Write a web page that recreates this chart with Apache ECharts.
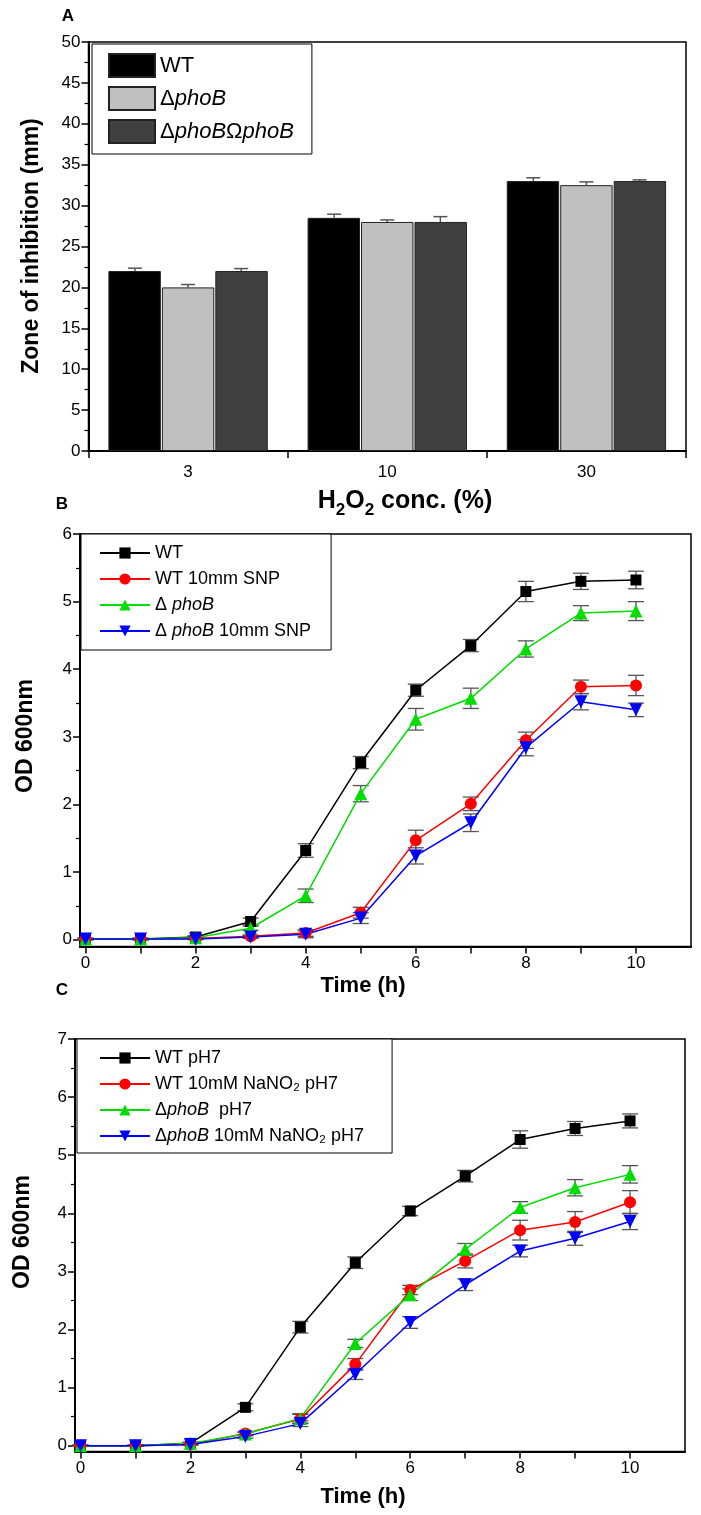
<!DOCTYPE html>
<html><head><meta charset="utf-8">
<script src="https://cdn.jsdelivr.net/npm/echarts@6/dist/echarts.min.js"></script>
<style>
html,body{margin:0;padding:0;background:#fff;}
.c{position:absolute;left:0;top:0;width:701px;height:1515px;}
</style></head><body>
<div id="pa" class="c"></div><div id="pb" class="c"></div><div id="pc" class="c"></div>
<script>
const FONT = "'Liberation Sans', Arial, sans-serif";

// ---------- Panel A data ----------
const aCategories = ['3', '10', '30'];
const aNames = ['WT', 'ΔphoB', 'ΔphoBΩphoB'];
const aWT = [22.0, 28.5, 33.0];
const aPhoB = [20.0, 28.0, 32.5];
const aComp = [22.0, 28.0, 33.0];
const aWTErr = [0.35, 0.45, 0.4];
const aPhoBErr = [0.35, 0.25, 0.4];
const aCompErr = [0.3, 0.65, 0.15];
const aColors = ['#000000', '#c0c0c0', '#404040'];

// ---------- Panel B data ----------
const timeH = [0, 1, 2, 3, 4, 5, 6, 7, 8, 9, 10];
const bNames = ['WT', 'WT 10mm SNP', 'Δ phoB', 'Δ phoB 10mm SNP'];
const bWT = [0.01, 0.01, 0.04, 0.27, 1.32, 2.62, 3.69, 4.35, 5.15, 5.30, 5.32];
const bWTErr = [0.01, 0.01, 0.02, 0.05, 0.10, 0.09, 0.09, 0.09, 0.15, 0.12, 0.13];
const bWTSNP = [0.01, 0.01, 0.02, 0.05, 0.10, 0.40, 1.47, 2.01, 2.95, 3.74, 3.76];
const bWTSNPErr = [0.01, 0.01, 0.01, 0.02, 0.05, 0.08, 0.15, 0.10, 0.12, 0.10, 0.15];
const bPhoB = [0.01, 0.01, 0.03, 0.17, 0.65, 2.16, 3.26, 3.57, 4.30, 4.83, 4.86];
const bPhoBErr = [0.01, 0.01, 0.01, 0.03, 0.10, 0.12, 0.16, 0.15, 0.12, 0.11, 0.14];
const bPhoBSNP = [0.01, 0.01, 0.01, 0.04, 0.08, 0.32, 1.24, 1.73, 2.84, 3.52, 3.40];
const bPhoBSNPErr = [0.01, 0.01, 0.01, 0.02, 0.05, 0.08, 0.12, 0.13, 0.12, 0.12, 0.10];

// ---------- Panel C data ----------
const cNames = ['WT pH7', 'WT 10mM NaNO₂ pH7', 'ΔphoB  pH7', 'ΔphoB 10mM NaNO₂ pH7'];
const cWT = [0.0, 0.0, 0.04, 0.66, 2.04, 3.15, 4.04, 4.64, 5.27, 5.46, 5.59];
const cWTErr = [0.01, 0.01, 0.02, 0.06, 0.10, 0.10, 0.08, 0.10, 0.15, 0.12, 0.12];
const cWTN = [0.0, 0.0, 0.02, 0.21, 0.46, 1.40, 2.68, 3.18, 3.71, 3.85, 4.19];
const cWTNErr = [0.01, 0.01, 0.01, 0.03, 0.08, 0.10, 0.08, 0.12, 0.17, 0.18, 0.20];
const cPhoB = [0.0, 0.0, 0.04, 0.20, 0.47, 1.76, 2.60, 3.38, 4.10, 4.44, 4.67];
const cPhoBErr = [0.01, 0.01, 0.01, 0.03, 0.08, 0.07, 0.10, 0.10, 0.10, 0.14, 0.15];
const cPhoBN = [0.0, 0.0, 0.02, 0.16, 0.38, 1.23, 2.12, 2.77, 3.35, 3.57, 3.86];
const cPhoBNErr = [0.01, 0.01, 0.01, 0.03, 0.05, 0.09, 0.10, 0.10, 0.10, 0.12, 0.14];

// ---------- tick values ----------
const xTickLabels = [0, 2, 4, 6, 8, 10];
const xTicks = [0, 1, 2, 3, 4, 5, 6, 7, 8, 9, 10];
const bYLabels = [0, 1, 2, 3, 4, 5, 6];
const bYMinor = [0.5, 1.5, 2.5, 3.5, 4.5, 5.5];
const cYLabels = [0, 1, 2, 3, 4, 5, 6, 7];
const cYMinor = [0.5, 1.5, 2.5, 3.5, 4.5, 5.5, 6.5];

const lineColors = ['#000000', '#ff0000', '#00dd00', '#0000ff'];
const symbols = ['rect', 'circle', 'triangle', 'triangle'];
const symbolRot = [0, 0, 0, 180];
const symbolSizes = [11, 12, 13, 13];

function txt(text, x, y, size, opts) {
  return Object.assign({
    type: 'text', x: x, y: y,
    style: { text: text, fontFamily: FONT, fontSize: size, fontWeight: 'bold', fill: '#000', align: 'center', verticalAlign: 'middle' }
  }, opts || {});
}
const mctx = document.createElement('canvas').getContext('2d');
function subTitle(parts, cx, cy, size, subSize, subDy) {
  const widths = parts.map(p => { mctx.font = 'bold ' + (p.sub ? subSize : size) + 'px ' + FONT; return mctx.measureText(p.t).width; });
  const total = widths.reduce((a, b) => a + b, 0);
  let x = cx - total / 2;
  return parts.map((p, i) => {
    const el = { type: 'text', x: x, y: cy + (p.sub ? subDy : 0),
      style: { text: p.t, fontFamily: FONT, fontSize: p.sub ? subSize : size, fontWeight: 'bold', fill: '#000', align: 'left', verticalAlign: 'middle' } };
    x += widths[i];
    return el;
  });
}

const TICK_FS = 17;

// ================= Panel A =================
const chartA = echarts.init(document.getElementById('pa'));
const aVals = [aWT, aPhoB, aComp];
const aErrs = [aWTErr, aPhoBErr, aCompErr];
const aSeries = [];
aVals.forEach((vals, k) => {
  aSeries.push({
    type: 'bar', name: aNames[k], data: vals, barGap: '2%', barCategoryGap: '20%',
    itemStyle: { color: aColors[k], borderColor: '#222', borderWidth: 1 }
  });
});
aVals.forEach((vals, k) => {
  aSeries.push({
    type: 'custom', name: 'errA' + k, silent: true, z: 5,
    data: vals.map((v, i) => [i, v, v + aErrs[k][i]]),
    renderItem: function (params, api) {
      const c = api.coord([api.value(0), api.value(1)]);
      const t = api.coord([api.value(0), api.value(2)]);
      const band = api.size([1, 0])[0];
      const bw = band * 0.8 / 3;
      const x = c[0] + (k - 1) * bw;
      const w = 7;
      const st = { stroke: '#555', lineWidth: 1.5, fill: null };
      return { type: 'group', children: [
        { type: 'line', shape: { x1: x, y1: c[1], x2: x, y2: t[1] }, style: st },
        { type: 'line', shape: { x1: x - w, y1: t[1], x2: x + w, y2: t[1] }, style: st }
      ] };
    }
  });
});
chartA.setOption({
  backgroundColor: 'transparent',
  animation: false,
  textStyle: { fontFamily: FONT },
  grid: { left: 88.5, top: 42, width: 597.5, height: 409, show: true, borderColor: '#000', borderWidth: 1.5 },
  legend: {
    data: aNames, orient: 'vertical', left: 92, top: 44,
    padding: [9, 18, 10, 16], itemGap: 8, itemWidth: 46, itemHeight: 23,
    borderColor: '#000', borderWidth: 1, backgroundColor: '#fff',
    icon: 'rect',
    textStyle: { fontFamily: FONT, fontSize: 22, color: '#000', rich: { i: { fontFamily: FONT, fontSize: 22, fontStyle: 'italic', color: '#000' } } },
    formatter: function (n) { return n.replace(/phoB/g, '{i|phoB}'); },
    selectedMode: false
  },
  xAxis: {
    type: 'category', data: aCategories,
    axisLine: { show: true, lineStyle: { color: '#000', width: 2 } },
    axisTick: { show: true, length: 7, alignWithLabel: false, lineStyle: { color: '#000', width: 1.5 } },
    axisLabel: { fontSize: TICK_FS, color: '#000', margin: 13, fontFamily: FONT },
    splitLine: { show: false }
  },
  yAxis: {
    type: 'value', min: 0, max: 50, interval: 5,
    axisLine: { show: true, lineStyle: { color: '#000', width: 2 } },
    axisTick: { show: true, length: 7, lineStyle: { color: '#000', width: 1.5 } },
    minorTick: { show: true, splitNumber: 2, length: 4, lineStyle: { color: '#000', width: 1.2 } },
    axisLabel: { fontSize: TICK_FS, color: '#000', margin: 8, fontFamily: FONT },
    splitLine: { show: false }, minorSplitLine: { show: false }
  },
  graphic: [
    txt('A', 68, 16, 17),
    txt('Zone of inhibition (mm)', 32, 246, 23, { rotation: Math.PI / 2 })
  ].concat(subTitle([{ t: 'H' }, { t: '2', sub: true }, { t: 'O' }, { t: '2', sub: true }, { t: ' conc. (%)' }], 405, 501, 25, 17, 9)),
  series: aSeries
});

// ================= line panels =================
function errSeries(xs, ys, es, idx) {
  return {
    type: 'custom', name: 'err' + idx, silent: true, z: 1,
    data: xs.map((x, i) => [x, ys[i] - es[i], ys[i] + es[i]]),
    renderItem: function (params, api) {
      const lo = api.coord([api.value(0), api.value(1)]);
      const hi = api.coord([api.value(0), api.value(2)]);
      const w = 8;
      const st = { stroke: '#555', lineWidth: 1.3, fill: null };
      return { type: 'group', children: [
        { type: 'line', shape: { x1: lo[0], y1: lo[1], x2: hi[0], y2: hi[1] }, style: st },
        { type: 'line', shape: { x1: lo[0] - w, y1: lo[1], x2: lo[0] + w, y2: lo[1] }, style: st },
        { type: 'line', shape: { x1: hi[0] - w, y1: hi[1], x2: hi[0] + w, y2: hi[1] }, style: st }
      ] };
    }
  };
}

function linePanel(el, cfg) {
  const ch = echarts.init(document.getElementById(el));
  const series = [];
  cfg.vals.forEach((v, k) => series.push(errSeries(timeH, v, cfg.errs[k], k)));
  cfg.vals.forEach((v, k) => series.push({
    type: 'line', name: cfg.names[k], data: timeH.map((x, i) => [x, v[i]]),
    symbol: symbols[k], symbolSize: symbolSizes[k], symbolRotate: symbolRot[k],
    showAllSymbol: true, z: 3,
    lineStyle: { color: lineColors[k], width: 1.5 },
    itemStyle: { color: lineColors[k] }
  }));
  const axisCommon = {
    axisLine: { show: true, onZero: false, lineStyle: { color: '#000', width: 2 } },
    splitLine: { show: false }
  };
  ch.setOption({
    backgroundColor: 'transparent',
    animation: false,
    textStyle: { fontFamily: FONT },
    grid: Object.assign({ show: true, borderColor: '#000', borderWidth: 1.5 }, cfg.grid),
    legend: {
      data: cfg.names, orient: 'vertical', left: cfg.legend.left, top: cfg.legend.top,
      padding: cfg.legend.padding, itemGap: cfg.legend.itemGap, itemWidth: 50, itemHeight: 14,
      borderColor: '#000', borderWidth: 1, backgroundColor: '#fff', selectedMode: false,
      textStyle: { fontFamily: FONT, fontSize: 18, color: '#000', rich: { i: { fontFamily: FONT, fontSize: 18, fontStyle: 'italic', color: '#000' } } },
      formatter: function (n) { return n.replace(/phoB/g, '{i|phoB}'); }
    },
    xAxis: Object.assign({
      type: 'value', min: -0.1, max: 11,
      axisTick: { show: true, length: 7, customValues: xTicks, lineStyle: { color: '#000', width: 1.5 } },
      axisLabel: { fontSize: TICK_FS, color: '#000', margin: 8, customValues: xTickLabels, fontFamily: FONT }
    }, axisCommon),
    yAxis: [
      Object.assign({
        type: 'value', min: -0.1, max: cfg.ymax,
        axisTick: { show: true, length: 7, customValues: cfg.yLabels, lineStyle: { color: '#000', width: 1.5 } },
        axisLabel: { fontSize: TICK_FS, color: '#000', margin: 8, customValues: cfg.yLabels, fontFamily: FONT }
      }, axisCommon),
      {
        type: 'value', min: -0.1, max: cfg.ymax, position: 'left', offset: 0,
        axisLine: { show: false, onZero: false },
        axisTick: { show: true, inside: false, length: 4, customValues: cfg.yMinor, lineStyle: { color: '#000', width: 1.2 } },
        axisLabel: { show: false }, splitLine: { show: false }
      }
    ],
    graphic: cfg.graphic,
    series: series
  });
  return ch;
}

linePanel('pb', {
  names: bNames,
  vals: [bWT, bWTSNP, bPhoB, bPhoBSNP],
  errs: [bWTErr, bWTSNPErr, bPhoBErr, bPhoBSNPErr],
  grid: { left: 80, top: 534, width: 611, height: 412.5 },
  legend: { left: 81, top: 534, padding: [10, 20, 10, 18], itemGap: 8 },
  ymax: 6, yLabels: bYLabels, yMinor: bYMinor,
  graphic: [
    txt('B', 62, 504, 17),
    txt('OD 600nm', 26, 736, 23, { rotation: Math.PI / 2 }),
    txt('Time (h)', 363, 986, 22)
  ]
});

linePanel('pc', {
  names: cNames,
  vals: [cWT, cWTN, cPhoB, cPhoBN],
  errs: [cWTErr, cWTNErr, cPhoBErr, cPhoBNErr],
  grid: { left: 75, top: 1039, width: 610, height: 412.5 },
  legend: { left: 77, top: 1039, padding: [10, 28, 8, 22], itemGap: 8 },
  ymax: 7, yLabels: cYLabels, yMinor: cYMinor,
  graphic: [
    txt('C', 62, 990, 17),
    txt('OD 600nm', 23, 1232, 23, { rotation: Math.PI / 2 }),
    txt('Time (h)', 363, 1497, 22)
  ]
});
</script></body></html>
